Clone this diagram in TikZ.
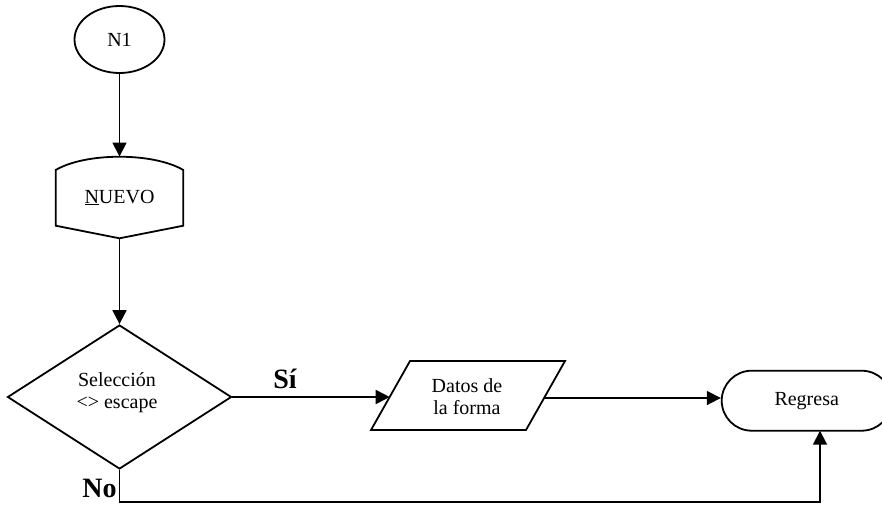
\documentclass[tikz,border=0pt]{standalone}
\usepackage{fontspec}
\setmainfont{Liberation Serif}
\usetikzlibrary{arrows.meta,shapes.geometric}
\tikzset{
  ln/.style={line width=1.8pt},
  arr/.style={ln,-{Triangle[length=14pt,width=14pt]}},
  txt/.style={font=\fontsize{20}{23}\selectfont,align=center},
  lbl/.style={font=\fontsize{28}{30}\selectfont\bfseries,inner sep=0pt},
}
\begin{document}
\begin{tikzpicture}[x=1pt,y=-1pt]
\useasboundingbox (0,0) rectangle (882,504);
% start
\node[ellipse,draw,ln,minimum width=90pt,minimum height=67pt,inner sep=0pt,txt] (n1) at (119.5,39.5) {N1};
% display shape
\node[txt,minimum width=127.6pt,minimum height=81.6pt,inner sep=0pt] (nuevo) at (119.5,197.5) {\underline{N}UEVO};
\draw[ln,line join=miter] (55.7,170) .. controls (85.7,152.3) and (153.3,152.3) .. (183.3,170)
  -- (183.3,225.7) -- (119.5,238.3) -- (55.7,225.7) -- cycle;
% decision
\node[diamond,draw,ln,aspect=1.556,minimum width=224pt,minimum height=144pt,inner sep=0pt,txt] (dec) at (119.5,397) {};
\node[txt,align=center] (dect) at (117,393) {Selección\\[-1pt]<> escape};
% data
\node[txt] (datos) at (467,397) {Datos de\\[-1pt]la forma};
\draw[ln] (410,361) -- (565,361) -- (526,430) -- (371,430) -- cycle;
\coordinate (datosin) at (389.7,397);
\coordinate (datosout) at (544.2,398);
% terminal
\node[draw,ln,rounded corners=30pt,minimum width=170pt,minimum height=60pt,inner sep=0pt,txt] (reg) at (806.7,400.7) {Regresa};
\coordinate (regb) at (820,430.7);
\coordinate (bot) at (820,502);
% labels
\node[lbl,anchor=base] (si) at (285,388.5) {Sí};
\node[lbl,anchor=base] (no) at (99.5,497) {No};
% connectors
\draw[arr] (n1.south) -- (nuevo.north);
\draw[arr] (nuevo.south) -- (dec.north);
\draw[arr] (dec.east) -- (datosin);
\draw[arr] (datosout) -- (reg.west |- datosout);
\draw[arr] (dec.south) -- (dec.south |- bot) -- (bot) -- (regb);
\end{tikzpicture}
\end{document}
